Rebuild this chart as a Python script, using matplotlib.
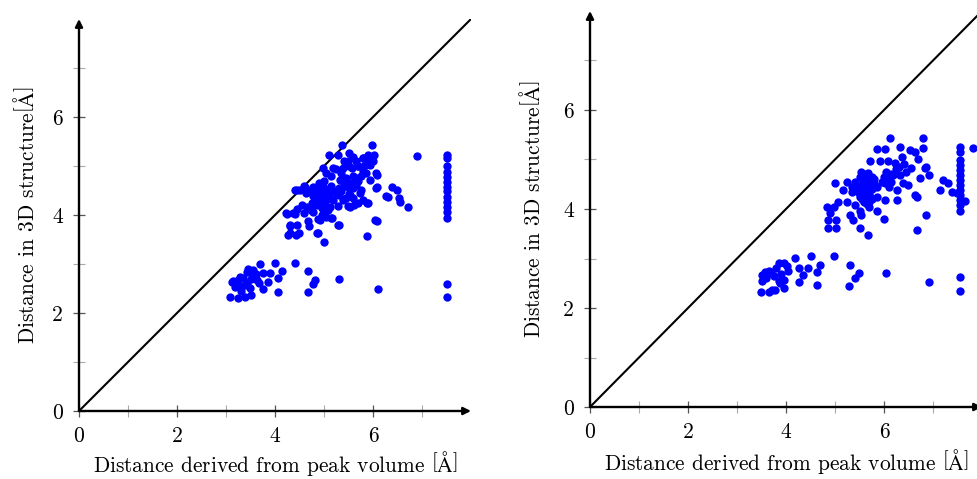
import matplotlib
matplotlib.use("Agg")
import matplotlib.pyplot as plt

plt.rcParams['font.family'] = ['cmr10', 'DejaVu Serif']
plt.rcParams['mathtext.fontset'] = 'cm'
plt.rcParams['axes.formatter.use_mathtext'] = True

# ---------------- data: left panel ----------------
left_low = [(3.09,2.32),(3.25,2.30),(3.39,2.33),(3.52,2.37),(3.12,2.64),(3.18,2.54),(3.29,2.74),
            (3.42,2.84),(3.56,2.88),(3.69,3.01),(4.00,3.03),(4.14,2.86),(4.07,2.71),(3.76,2.50),
            (4.07,2.43),(3.90,2.81),(3.76,2.81),(3.63,2.67),(3.86,2.64),(3.25,2.68),(3.35,2.72),
            (3.45,2.89),(3.55,2.75),(3.42,2.62),(3.28,2.55),(3.20,2.60),(3.48,2.52),(3.62,2.80),
            (3.30,2.45),(3.50,2.70),(3.68,2.62),(3.14,2.65),(3.38,2.58),
            (4.41,3.03),(4.68,2.86),(4.82,2.67),(4.77,2.60),(4.68,2.43),(5.31,2.69),(6.11,2.50),
            (7.51,2.59),(7.51,2.33)]
left_mid = [(5.01,3.45),(4.85,3.63),(5.88,3.58),(6.04,3.89),(5.30,3.80),(5.15,3.94),(4.87,3.91),
            (4.26,3.60),(4.43,3.60),(4.30,3.77),(4.45,3.80),(4.23,4.04),(4.37,4.04),(4.45,4.12),
            (4.67,3.87),(4.70,3.77),(4.40,4.52),(4.50,4.52),(4.60,4.59),(4.64,4.45),(4.77,4.38),
            (4.74,4.11),(4.91,4.28),(5.01,4.21),(5.08,4.11),(4.91,4.59),(5.01,4.69),(5.11,4.52),
            (5.18,4.31),(4.98,4.96),(5.11,5.23),(5.28,5.23),(5.37,5.43),(5.52,5.26),(5.49,5.10),
            (5.39,4.96),(5.25,4.93),(5.32,4.72),(5.45,4.65),(5.59,4.79),(5.69,4.99),(5.79,5.16),
            (5.89,5.23),(5.98,5.42),(6.03,5.23),(5.93,5.03),(5.82,4.99),(6.06,4.86),(5.93,4.72),
            (5.76,4.52),(5.66,4.62),(5.52,4.42),(5.38,4.31),(5.49,4.18),(5.62,4.21),(5.79,4.31),
            (5.89,4.25),(5.28,4.18),(6.06,4.55),(6.27,4.38),(6.38,4.58),(6.48,4.51),(6.31,4.36),
            (6.54,4.34),(6.55,4.27),(6.71,4.16),(6.89,5.21),(6.08,4.58),(6.08,3.88),
            (5.60,5.19),(5.80,5.16),(5.70,4.99),(5.57,4.95),(5.19,4.95),(4.78,4.58),(4.61,4.58),
            (4.44,4.51),(4.65,4.17),(4.78,4.07),(5.12,4.17),(5.53,4.17),(5.70,4.24),(5.87,4.24),
            (5.73,4.44),(5.53,4.41),(6.08,4.82),(4.88,3.63),(4.31,3.63),(4.48,3.63),(4.24,4.03),
            (4.41,4.03),(4.31,3.80),(4.92,3.90),(5.16,3.93),(5.29,3.80),
            (4.70,4.50),(4.80,4.45),(4.85,4.35),(4.90,4.45),(4.95,4.40),(5.00,4.35),(5.05,4.45),
            (5.10,4.40),(4.75,4.25),(4.85,4.20),(4.95,4.15),(5.05,4.30),(4.80,4.55),(4.90,4.65),
            (5.00,4.55),(5.15,4.60),(5.20,4.50),(5.25,4.45),(5.30,4.55),(5.35,4.50),(5.40,4.60),
            (5.45,4.75),(5.50,4.55),(5.55,4.65),(5.60,4.55),(5.65,4.75),(5.70,4.70),(5.75,4.80),
            (5.80,4.90),(5.85,4.85),(5.30,4.40),(5.45,4.35),(5.60,4.35),(5.00,4.05),(4.95,4.00),
            (5.05,3.95),(4.55,4.20),(4.60,4.05),(5.15,4.80),(5.05,4.85),(5.35,4.85),(5.50,5.00),
            (5.65,5.10),(5.90,5.10),(6.00,5.10),(5.40,5.10)]
left_col_y = [5.22,5.16,4.99,4.88,4.78,4.68,4.58,4.48,4.37,4.27,4.17,4.07,3.93]
left_col_x = 7.52

x_left = [p[0] for p in left_low + left_mid] + [left_col_x] * len(left_col_y)
y_left = [p[1] for p in left_low + left_mid] + left_col_y

# ---------------- data: right panel ----------------
right_low = [(3.49,2.33),(3.65,2.33),(3.78,2.37),(3.95,2.40),(3.51,2.67),(3.51,2.54),(3.65,2.74),
             (3.75,2.64),(3.85,2.91),(3.95,2.91),(4.02,2.84),(4.18,3.02),(4.26,2.80),(4.45,2.80),
             (4.52,3.05),(4.69,2.87),(4.63,2.73),(4.35,2.67),(4.27,2.52),(3.95,2.57),(3.85,2.54),
             (4.63,2.46),(3.60,2.60),(3.70,2.70),(3.80,2.80),(3.58,2.72),(3.90,2.68),(4.05,2.75),
             (3.72,2.36),(3.88,2.50),
             (4.97,3.05),(5.31,2.87),(5.48,2.70),(5.41,2.60),(5.29,2.45),(6.04,2.70),(6.92,2.52),
             (7.56,2.62),(7.56,2.34)]
right_mid = [(6.12,5.43),(5.85,5.21),(6.02,5.21),(6.33,5.26),(6.36,5.06),(6.53,5.19),(6.63,5.16),
             (6.80,5.43),(6.80,5.23),(6.70,5.02),(6.56,4.82),(6.84,4.82),(6.73,4.62),(6.50,4.48),
             (6.63,4.28),(6.67,4.25),(6.86,3.88),(6.68,3.58),(6.22,4.92),(6.09,4.96),(5.92,4.96),
             (5.71,4.96),(6.05,4.75),(6.19,4.69),(6.33,4.69),(6.39,4.52),(6.26,4.38),(6.02,4.52),
             (5.85,4.45),(5.71,4.42),(5.58,4.62),(5.54,4.75),(5.68,4.72),(5.41,4.55),(5.24,4.55),
             (5.00,4.52),(5.17,4.38),(5.34,4.35),(5.48,4.32),(5.58,4.18),(5.41,4.08),(5.24,4.15),
             (5.07,4.15),(5.51,3.95),(5.54,3.88),(5.85,3.95),(6.02,4.18),(6.26,4.18),(4.83,4.05),
             (4.97,4.05),(4.90,3.91),(4.86,3.78),(5.03,3.78),(5.31,3.88),(5.37,3.78),(4.86,3.61),
             (5.03,3.61),(5.51,3.61),(5.68,3.47),(5.71,4.25),(5.85,4.25),(6.00,3.80),
             (6.86,4.85),(6.91,4.68),(7.21,4.59),(7.31,4.53),(7.14,4.38),(7.38,4.35),(7.48,4.32),
             (7.65,4.17),(7.82,5.23),
             (5.50,4.40),(5.55,4.50),(5.60,4.45),(5.65,4.50),(5.70,4.55),(5.60,4.30),(5.65,4.35),
             (5.70,4.30),(5.75,4.40),(5.80,4.50),(5.50,4.25),(5.45,4.45),(5.35,4.45),(5.65,4.60),
             (5.75,4.65),(5.55,4.20),(5.60,4.15),(5.65,4.10),(5.70,4.15),(5.75,4.20),(5.50,4.65),
             (5.80,4.60),(6.00,4.65),(6.10,4.60),(6.15,4.70),(6.25,4.80),(6.30,4.85),(6.40,4.90),
             (6.45,4.75),(6.10,4.45),(6.15,4.55),(5.95,4.55),(5.60,4.70),(5.70,4.05)]
right_col_y = [5.26,5.16,4.99,4.89,4.79,4.69,4.59,4.48,4.38,4.28,4.18,4.08,3.95]
right_col_x = 7.56

x_right = [p[0] for p in right_low + right_mid] + [right_col_x] * len(right_col_y)
y_right = [p[1] for p in right_low + right_mid] + right_col_y

major_ticks = [0, 2, 4, 6]
minor_ticks = [1, 3, 5, 7]
tick_labels = ['0', '2', '4', '6']

xlabel = r'Distance derived from peak volume $\left[\mathrm{\AA}\right]$'
ylabel = r'Distance in 3D structure$\left[\mathrm{\AA}\right]$'

fig = plt.figure(figsize=(9.77, 4.79), dpi=100)

W, H = 977.0, 479.0
ax1 = fig.add_axes([79/W, 68/H, 392/W, 392/H])
ax2 = fig.add_axes([590/W, 72/H, 392/W, 396/H])

def style(ax, xs, ys, ylab_x, xlab_y):
    ax.set_xlim(0, 8)
    ax.set_ylim(0, 8)
    for s in ax.spines.values():
        s.set_visible(False)
    ax.plot([0, 8], [0, 8], color='black', lw=1.5, zorder=2)
    ax.plot(xs, ys, linestyle='none', marker='o', markersize=6.0,
            markerfacecolor='#0000ff', markeredgecolor='none', zorder=3)
    ax.set_xticks(major_ticks)
    ax.set_xticklabels(tick_labels)
    ax.set_yticks(major_ticks)
    ax.set_yticklabels(tick_labels)
    ax.set_xticks(minor_ticks, minor=True)
    ax.set_yticks(minor_ticks, minor=True)
    ax.tick_params(which='major', direction='inout', length=9, width=0.9,
                   color='#555555', labelsize=15.5, pad=7)
    ax.tick_params(which='minor', direction='inout', length=9, width=0.8,
                   color='#aaaaaa')
    ax.tick_params(axis='y', which='major', pad=7)
    arrow = dict(arrowstyle='-|>', lw=1.7, color='black', mutation_scale=11,
                 shrinkA=0, shrinkB=0)
    ax.annotate('', xy=(1.0, 0), xytext=(0, 0), xycoords='axes fraction',
                textcoords='axes fraction', arrowprops=arrow, zorder=4)
    ax.annotate('', xy=(0, 1.0), xytext=(0, 0), xycoords='axes fraction',
                textcoords='axes fraction', arrowprops=arrow, zorder=4)
    ax.set_xlabel(xlabel, fontsize=15.4)
    ax.set_ylabel(ylabel, fontsize=15.4)
    ax.xaxis.set_label_coords(0.5, xlab_y)
    ax.yaxis.set_label_coords(ylab_x, 0.5)

style(ax1, x_left, y_left, -0.105, -0.097)
style(ax2, x_right, y_right, -0.118, -0.1)

fig.savefig('out.png', dpi=100)
